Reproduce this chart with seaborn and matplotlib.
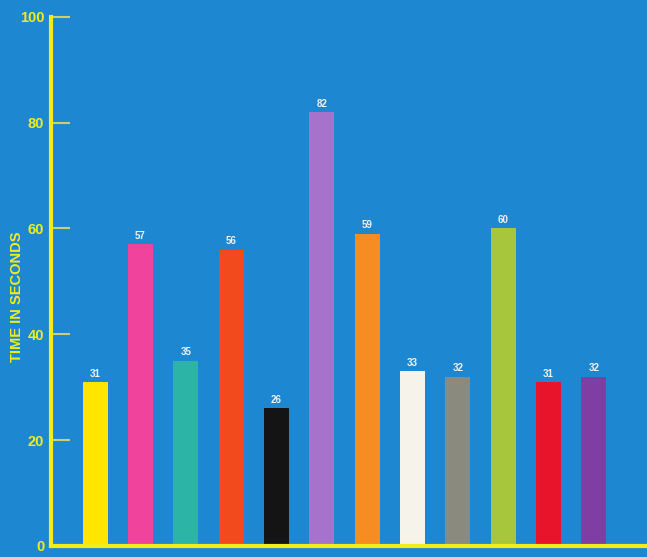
import pandas as pd
import matplotlib
matplotlib.use("Agg")
import matplotlib.pyplot as plt
import seaborn as sns

# one bar per entry, no category names shown on the chart
bars = ["b1", "b2", "b3", "b4", "b5", "b6", "b7", "b8", "b9", "b10", "b11", "b12"]
times = [31, 57, 35, 56, 26, 82, 59, 33, 32, 60, 31, 32]
value_labels = ["31", "57", "35", "56", "26", "82", "59", "33", "32", "60", "31", "32"]
bar_colors = ["#ffe600", "#f0449c", "#2cb5a6", "#f24a1c", "#141414", "#a772cc",
              "#f68c22", "#f6f3ea", "#8a8a7e", "#a8c63c", "#e8142c", "#7e3ea4"]
y_ticks = [0, 20, 40, 60, 80, 100]

BG = "#1e87d2"
YELLOW = "#f2ec1e"

sns.set_theme(style="white")
plt.rcParams['font.family'] = ['Liberation Sans', 'DejaVu Sans']

df = pd.DataFrame({"bar": bars, "time": times})

fig = plt.figure(figsize=(6.47, 5.57), dpi=100)
fig.patch.set_facecolor(BG)
ax = fig.add_axes([0.079, 0.020, 0.921, 0.950])
ax.set_facecolor(BG)

sns.barplot(data=df, x="bar", y="time", hue="bar", palette=bar_colors,
            width=0.55, legend=False, saturation=1, linewidth=0,
            edgecolor="none", ax=ax)

for i, (v, lab) in enumerate(zip(times, value_labels)):
    ax.text(i, v + 0.6, lab, ha="center", va="bottom", color="#eef2f0",
            fontsize=7, fontweight="bold")

ax.set_xlim(-0.97, 12.17)
ax.set_ylim(0, 100)
ax.set_xticks([])
ax.set_yticks(y_ticks)
ax.set_yticklabels([str(t) for t in y_ticks], color=YELLOW, fontsize=10.5,
                   fontweight="bold")
ax.tick_params(axis="y", left=True, direction="in", length=14, width=1.5,
               color="#c8d070", pad=5)
ax.set_xlabel("")
ax.set_ylabel("TIME IN SECONDS", color=YELLOW, fontsize=10.5, fontweight="bold")
ax.yaxis.set_label_coords(-0.045, 0.47)

for side in ["top", "right"]:
    ax.spines[side].set_visible(False)
for side in ["left", "bottom"]:
    ax.spines[side].set_color(YELLOW)
    ax.spines[side].set_linewidth(3)

fig.savefig("out.png", dpi=100, facecolor=BG)
